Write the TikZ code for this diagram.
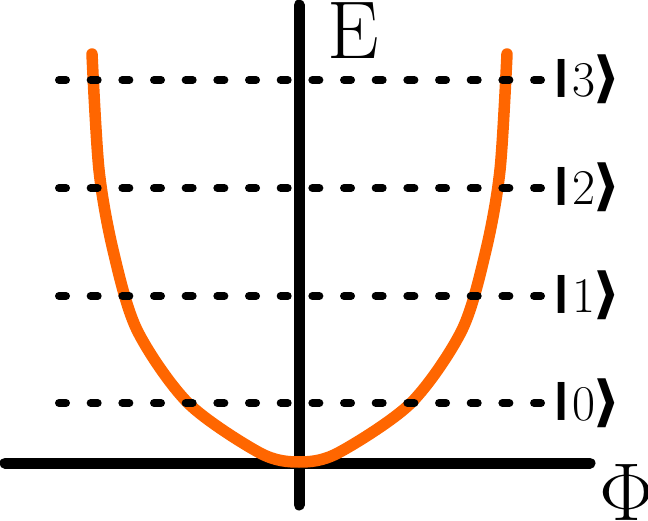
\RequirePackage{fix-cm}
\documentclass[tikz,border=0pt]{standalone}
\usepackage{amsmath}
\usepackage{fontspec}
\newfontfamily\ketfont{DejaVu Sans Bold}
\usepackage{xcolor}
\definecolor{potorange}{HTML}{FF6600}
\newcommand{\ketbar}{{\ketfont\fontsize{38}{38}\selectfont\raisebox{0.236em}{\scalebox{1.6}[1]{|}}}}
\newcommand{\ketend}{{\ketfont\fontsize{55}{55}\selectfont\hspace{-3pt}\scalebox{1.15}[1]{⟩}}}
\tikzset{
	axis/.style={line width=11pt, line cap=round},
	level/.style={line width=8pt, line cap=round, dash pattern=on 7pt off 24.67pt},
	ketlabel/.style={anchor=base west, inner sep=0pt, font=\fontsize{50}{50}\selectfont},
}
\begin{document}
\begin{tikzpicture}[x=1pt,y=-1pt]
	\useasboundingbox (0,0) rectangle (648,521);
	\coordinate (Etop) at (299,5);
	\coordinate (Ebot) at (299,505);
	\coordinate (Pleft) at (5,463);
	\coordinate (Pright) at (590,463);
	\draw[axis] (Ebot) -- (Etop);
	\draw[axis] (Pleft) -- (Pright);
	% potential well
	\draw[potorange, line width=11.5pt, line cap=round] plot[smooth] coordinates {
		(92,54) (99,170) (113,250) (137,330) (188,403) (260,453) (299,462)
		(338,453) (411,403) (462,330) (486,250) (500,170) (507,54)};
	% levels
	\foreach \n/\y in {0/403,1/296,2/188,3/80}{
		\coordinate (lvlL\n) at (59,\y);
		\coordinate (lvlR\n) at (541,\y);
		\draw[level] (lvlL\n) -- (lvlR\n);
		\node[ketlabel] (ket\n) at (550,\y+17) {\ketbar\n\ketend};
	}
	\node[font=\fontsize{82}{82}\selectfont] (Elab) at (353,31) {E};
	\node[font=\fontsize{82}{82}\selectfont] (Philab) at (627,492) {$\Phi$};
\end{tikzpicture}
\end{document}
